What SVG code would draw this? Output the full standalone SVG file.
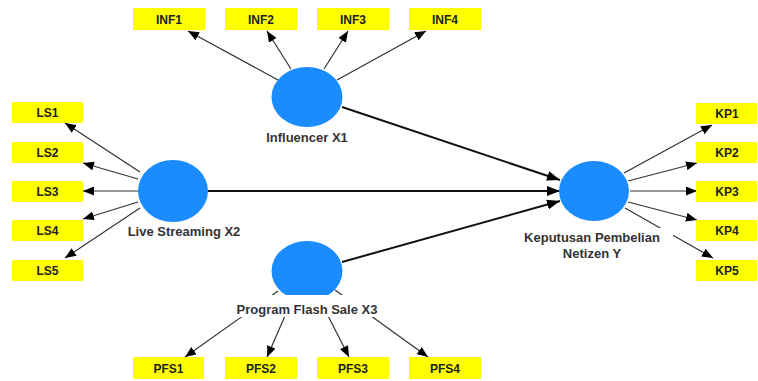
<svg xmlns="http://www.w3.org/2000/svg" width="758" height="381" viewBox="0 0 758 381">
<style>
.box{fill:#ffff00}
.bt{font-family:"Liberation Sans",Arial,sans-serif;font-weight:bold;font-size:12px;fill:#222;text-anchor:middle}
.lv{fill:#1a8cff}
.lt{font-family:"Liberation Sans",Arial,sans-serif;font-weight:bold;font-size:13px;fill:#333;text-anchor:middle}
.bg{fill:#fff}
.thin{stroke:#333;stroke-width:1.2;fill:none;marker-end:url(#a)}
.thick{stroke:#111;stroke-width:2;fill:none;marker-end:url(#b)}
</style>
<defs>
<marker id="a" markerUnits="userSpaceOnUse" markerWidth="11" markerHeight="9" refX="11" refY="4.5" orient="auto"><path d="M0,0 L11,4.5 L0,9 z" fill="#000"/></marker>
<marker id="b" markerUnits="userSpaceOnUse" markerWidth="13" markerHeight="10" refX="13" refY="5" orient="auto"><path d="M0,0 L13,5 L0,10 z" fill="#000"/></marker>
</defs>
<rect width="758" height="381" fill="#fff"/>
<g id="connectors">
<line class="thin" x1="278" y1="80" x2="188" y2="31"/>
<line class="thin" x1="291" y1="69" x2="267" y2="31"/>
<line class="thin" x1="324" y1="69" x2="348" y2="31"/>
<line class="thin" x1="337" y1="80" x2="426" y2="31"/>
<line class="thin" x1="140" y1="172" x2="65" y2="123"/>
<line class="thin" x1="138" y1="179" x2="83" y2="163"/>
<line class="thin" x1="138" y1="191" x2="83" y2="191"/>
<line class="thin" x1="138" y1="202" x2="83" y2="219"/>
<line class="thin" x1="140" y1="208" x2="65" y2="258"/>
<line class="thin" x1="278" y1="291" x2="185" y2="357"/>
<line class="thin" x1="292" y1="300" x2="267" y2="357"/>
<line class="thin" x1="320" y1="300" x2="349" y2="357"/>
<line class="thin" x1="335" y1="290" x2="428" y2="357"/>
<line class="thin" x1="624" y1="173" x2="712" y2="125"/>
<line class="thin" x1="628" y1="181" x2="697" y2="163"/>
<line class="thin" x1="630" y1="191" x2="697" y2="191"/>
<line class="thin" x1="628" y1="202" x2="697" y2="220"/>
<line class="thin" x1="625" y1="208" x2="713" y2="258"/>
<line class="thick" x1="342" y1="107" x2="560" y2="180"/>
<line class="thick" x1="208" y1="191" x2="560" y2="191"/>
<line class="thick" x1="342" y1="262" x2="560" y2="201"/>
</g>
<g id="INF1"><rect class="box" x="133" y="8" width="72" height="22"/><text class="bt" x="169" y="23.5">INF1</text></g>
<g id="INF2"><rect class="box" x="225" y="8" width="72" height="22"/><text class="bt" x="261" y="23.5">INF2</text></g>
<g id="INF3"><rect class="box" x="317" y="8" width="72" height="22"/><text class="bt" x="353" y="23.5">INF3</text></g>
<g id="INF4"><rect class="box" x="409" y="8" width="72" height="22"/><text class="bt" x="445" y="23.5">INF4</text></g>
<g id="LS1"><rect class="box" x="12" y="102" width="71" height="21"/><text class="bt" x="47.5" y="117">LS1</text></g>
<g id="LS2"><rect class="box" x="12" y="142" width="71" height="21"/><text class="bt" x="47.5" y="157">LS2</text></g>
<g id="LS3"><rect class="box" x="12" y="181" width="71" height="21"/><text class="bt" x="47.5" y="196">LS3</text></g>
<g id="LS4"><rect class="box" x="12" y="220" width="71" height="21"/><text class="bt" x="47.5" y="235">LS4</text></g>
<g id="LS5"><rect class="box" x="12" y="260" width="71" height="21"/><text class="bt" x="47.5" y="275">LS5</text></g>
<g id="KP1"><rect class="box" x="696" y="103" width="61" height="21"/><text class="bt" x="727" y="118">KP1</text></g>
<g id="KP2"><rect class="box" x="696" y="142" width="61" height="21"/><text class="bt" x="727" y="157">KP2</text></g>
<g id="KP3"><rect class="box" x="696" y="181" width="61" height="21"/><text class="bt" x="727" y="196">KP3</text></g>
<g id="KP4"><rect class="box" x="696" y="220" width="61" height="21"/><text class="bt" x="727" y="235">KP4</text></g>
<g id="KP5"><rect class="box" x="696" y="260" width="61" height="21"/><text class="bt" x="727" y="275">KP5</text></g>
<g id="PFS1"><rect class="box" x="133" y="357" width="71" height="22"/><text class="bt" x="168.5" y="372.5">PFS1</text></g>
<g id="PFS2"><rect class="box" x="225" y="357" width="72" height="22"/><text class="bt" x="261" y="372.5">PFS2</text></g>
<g id="PFS3"><rect class="box" x="317" y="357" width="72" height="22"/><text class="bt" x="353" y="372.5">PFS3</text></g>
<g id="PFS4"><rect class="box" x="409" y="357" width="72" height="22"/><text class="bt" x="445" y="372.5">PFS4</text></g>
<g id="InfluencerX1"><ellipse class="lv" cx="307" cy="97" rx="35.5" ry="30"/><text class="lt" x="307" y="142">Influencer X1</text></g>
<g id="LiveStreamingX2"><ellipse class="lv" cx="173" cy="191" rx="35" ry="31"/><text class="lt" x="184" y="236">Live Streaming X2</text></g>
<g id="ProgramFlashSaleX3"><ellipse class="lv" cx="307" cy="271" rx="35.5" ry="30"/><rect class="bg" x="230" y="295" width="154" height="22"/><text class="lt" x="307" y="314">Program Flash Sale X3</text></g>
<g id="KeputusanPembelianNetizenY"><ellipse class="lv" cx="594" cy="191" rx="35" ry="30"/><rect class="bg" x="512" y="228" width="161" height="34"/><text class="lt" x="592" y="242">Keputusan Pembelian</text><text class="lt" x="592" y="258">Netizen Y</text></g>
</svg>
